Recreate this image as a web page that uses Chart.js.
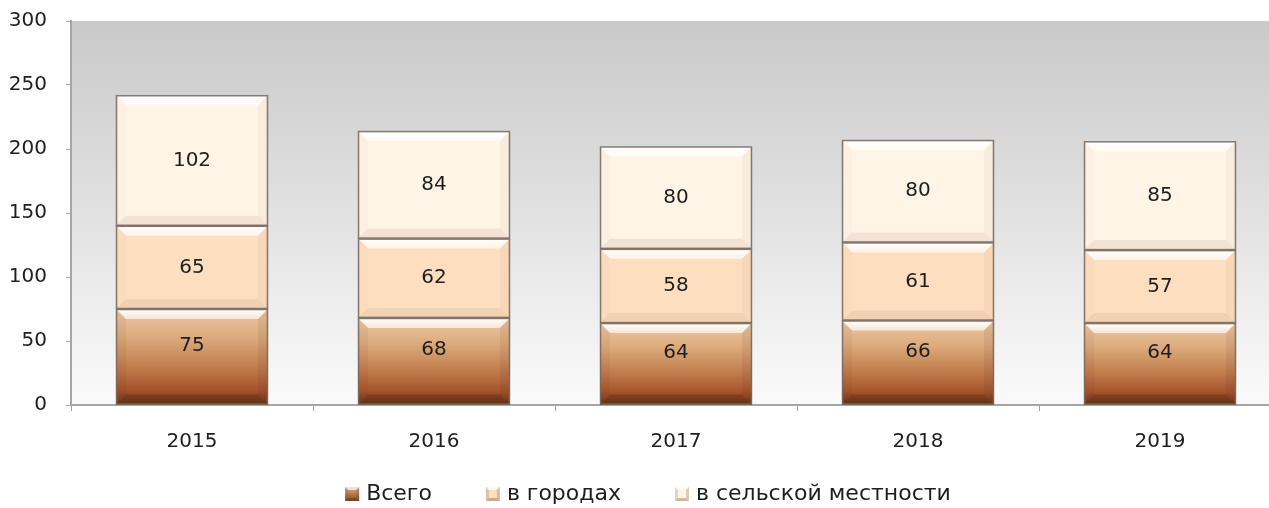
<!DOCTYPE html>
<html>
<head>
<meta charset="utf-8">
<script src="https://cdn.jsdelivr.net/npm/chart.js@4.4.1/dist/chart.umd.min.js"></script>
<style>
html,body{margin:0;padding:0;background:#fff;overflow:hidden;}
#wrap{width:1269px;height:508px;position:relative;overflow:hidden;}
canvas{display:block;}
</style>
</head>
<body>
<div id="wrap"><canvas id="c" width="1281" height="508"></canvas></div>
<script>
const categories = ['2015', '2016', '2017', '2018', '2019'];
const seriesNames = ['Всего', 'в городах', 'в сельской местности'];
const totalValues = [75, 68, 64, 66, 64];
const urbanValues = [65, 62, 58, 61, 57];
const ruralValues = [102, 84, 80, 80, 85];
const yTicks = [0, 50, 100, 150, 200, 250, 300];

const FONT = "'DejaVu Sans', sans-serif";
const baseColors = ['#c98a5c', '#fddfbf', '#fef5e6'];
const labelOffsets = [-11, 0, 0];

function trap(ctx, pts, fill) {
  ctx.beginPath();
  ctx.moveTo(pts[0][0], pts[0][1]);
  for (let i = 1; i < pts.length; i++) ctx.lineTo(pts[i][0], pts[i][1]);
  ctx.closePath();
  ctx.fillStyle = fill;
  ctx.fill();
}

const bgPlugin = {
  id: 'bg',
  beforeDraw(chart) {
    const {ctx, chartArea: a} = chart;
    const g = ctx.createLinearGradient(0, a.top, 0, a.bottom);
    g.addColorStop(0, '#c9c9c9');
    g.addColorStop(1, '#fafafa');
    ctx.save();
    ctx.fillStyle = g;
    ctx.fillRect(a.left, a.top, a.right - a.left, a.bottom - a.top);
    ctx.restore();
  }
};

const bevelPlugin = {
  id: 'bevel',
  afterDatasetsDraw(chart) {
    const ctx = chart.ctx;
    ctx.save();
    chart.data.datasets.forEach((ds, di) => {
      const meta = chart.getDatasetMeta(di);
      meta.data.forEach((el, i) => {
        const L = el.x - el.width / 2, R = el.x + el.width / 2;
        const T = Math.min(el.y, el.base), B = Math.max(el.y, el.base);
        const b = 10;
        if (di === 0) {
          const g = ctx.createLinearGradient(0, T, 0, B);
          g.addColorStop(0, '#ecc9a6');
          g.addColorStop(0.3, '#dcaa7c');
          g.addColorStop(0.6, '#c27e4e');
          g.addColorStop(0.85, '#a5532c');
          g.addColorStop(1, '#6e361a');
          ctx.fillStyle = g;
          ctx.fillRect(L, T, R - L, B - T);
        }
        const gt = ctx.createLinearGradient(0, T, 0, T + b);
        gt.addColorStop(0, 'rgba(255,255,255,1)');
        gt.addColorStop(1, 'rgba(255,255,255,0.6)');
        trap(ctx, [[L, T], [R, T], [R - b, T + b], [L + b, T + b]], gt);
        trap(ctx, [[L, B], [R, B], [R - b, B - b], [L + b, B - b]], di === 0 ? 'rgba(60,25,10,0.22)' : 'rgba(170,110,90,0.13)');
        trap(ctx, [[L, T], [L + b, T + b], [L + b, B - b], [L, B]], di === 0 ? 'rgba(60,25,10,0.05)' : 'rgba(180,120,100,0.04)');
        trap(ctx, [[R, T], [R - b, T + b], [R - b, B - b], [R, B]], di === 0 ? 'rgba(60,25,10,0.08)' : 'rgba(150,100,80,0.06)');
        ctx.strokeStyle = 'rgba(120,105,95,0.9)';
        ctx.lineWidth = 1.5;
        ctx.strokeRect(L + 0.5, T + 0.5, R - L - 1, B - T - 1);
        ctx.fillStyle = '#1e1e1e';
        ctx.font = '20px ' + FONT;
        ctx.textAlign = 'center';
        ctx.textBaseline = 'middle';
        ctx.fillText(String(ds.data[i]), el.x, (T + B) / 2 + labelOffsets[di]);
      });
    });
    ctx.restore();
  }
};

const legendPlugin = {
  id: 'customLegend',
  afterDraw(chart) {
    const ctx = chart.ctx;
    ctx.save();
    ctx.font = '22px ' + FONT;
    const box = 14, gapText = 7, gapItem = 54;
    const widths = chart.data.datasets.map(ds => box + gapText + ctx.measureText(ds.label).width);
    const total = widths.reduce((s, w) => s + w, 0) + gapItem * (widths.length - 1);
    let x = 648 - total / 2;
    const y = 494;
    chart.data.datasets.forEach((ds, di) => {
      const L = x, T = y - 7, R = x + box, B = y + 7;
      let fill = baseColors[di];
      if (di === 0) {
        const g = ctx.createLinearGradient(0, T, 0, B);
        g.addColorStop(0, '#e0ae80'); g.addColorStop(1, '#8a4422');
        fill = g;
      }
      ctx.fillStyle = fill;
      ctx.fillRect(L, T, box, box);
      const bb = 3;
      trap(ctx, [[L, T], [R, T], [R - bb, T + bb], [L + bb, T + bb]], 'rgba(255,255,255,0.7)');
      trap(ctx, [[L, B], [R, B], [R - bb, B - bb], [L + bb, B - bb]], 'rgba(90,50,30,0.3)');
      trap(ctx, [[L, T], [L + bb, T + bb], [L + bb, B - bb], [L, B]], 'rgba(120,80,60,0.2)');
      trap(ctx, [[R, T], [R - bb, T + bb], [R - bb, B - bb], [R, B]], 'rgba(120,80,60,0.25)');
      ctx.fillStyle = '#1e1e1e';
      ctx.textAlign = 'left';
      ctx.textBaseline = 'middle';
      ctx.fillText(ds.label, x + box + gapText, y);
      x += widths[di] + gapItem;
    });
    ctx.restore();
  }
};

const mkDs = (label, data, i) => ({
  label, data,
  backgroundColor: baseColors[i],
  borderWidth: 0,
  barPercentage: 0.628,
  categoryPercentage: 1.0,
  stack: 's'
});

new Chart(document.getElementById('c'), {
  type: 'bar',
  data: {
    labels: categories,
    datasets: [
      mkDs(seriesNames[0], totalValues, 0),
      mkDs(seriesNames[1], urbanValues, 1),
      mkDs(seriesNames[2], ruralValues, 2)
    ]
  },
  options: {
    responsive: false,
    animation: false,
    layout: {padding: {left: 0, right: 0, top: 21, bottom: 35}},
    plugins: {legend: {display: false}, tooltip: {enabled: false}},
    scales: {
      x: {
        stacked: true,
        offset: true,
        grid: {display: true, drawOnChartArea: false, offset: true, color: '#a0a0a0', tickLength: 6, lineWidth: 1},
        border: {display: true, color: '#a6a6a6', width: 2},
        ticks: {color: '#1e1e1e', font: {family: FONT, size: 20}, padding: 19, maxRotation: 0}
      },
      y: {
        stacked: true,
        min: 0, max: 300,
        afterBuildTicks(scale) { scale.ticks = yTicks.map(v => ({value: v})); },
        afterFit(scale) { scale.width = 71; scale.paddingTop = 0; scale.paddingBottom = 0; },
        grid: {display: true, drawOnChartArea: false, color: '#a0a0a0', tickLength: 5},
        border: {display: true, color: '#a6a6a6', width: 2},
        ticks: {color: '#1e1e1e', font: {family: FONT, size: 20}, padding: 19}
      }
    }
  },
  plugins: [bgPlugin, bevelPlugin, legendPlugin]
});
</script>
</body>
</html>
